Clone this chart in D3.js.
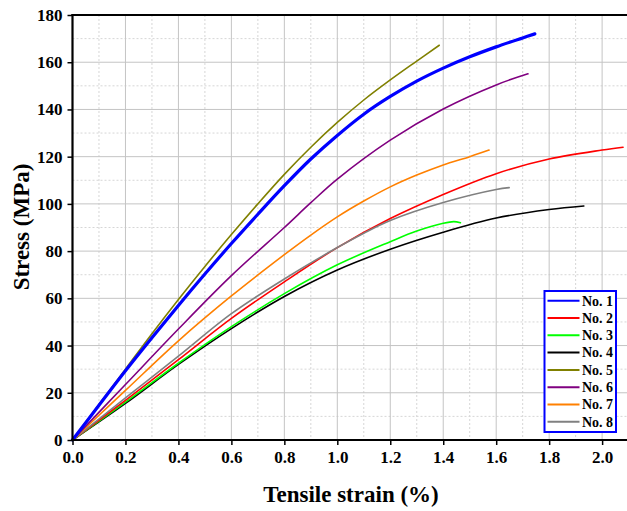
<!DOCTYPE html>
<html>
<head>
<meta charset="utf-8">
<script src="https://cdn.jsdelivr.net/npm/d3@7/dist/d3.min.js"></script>
<style>
  html, body { margin: 0; padding: 0; background: #fff; }
  svg { display: block; }
  text { font-family: "Liberation Serif", "Times New Roman", serif; font-weight: bold; fill: #000; }
</style>
</head>
<body>
<svg id="chart" width="627" height="511"></svg>
<script>
// Stress–strain curves, strain in %, stress in MPa
const series = ["No. 1", "No. 2", "No. 3", "No. 4", "No. 5", "No. 6", "No. 7", "No. 8"];
const colors = ["#0000ff", "#ff0000", "#00ff00", "#000000", "#808000", "#800080", "#ff8000", "#808080"];

const strain1 = [0, 0.1, 0.2, 0.3, 0.4, 0.5, 0.6, 0.7, 0.8, 0.9, 1.0, 1.1, 1.2, 1.3, 1.4, 1.5, 1.6, 1.7, 1.746];
const stress1 = [0, 14.7, 29.3, 43.3, 57, 70.3, 83.2, 95.6, 107.7, 119, 129, 138, 145.5, 152, 157.5, 162.3, 166.5, 170.3, 172];

const strain2 = [0, 0.2, 0.4, 0.6, 0.8, 1.0, 1.2, 1.4, 1.6, 1.8, 2.0, 2.079];
const stress2 = [0, 16.8, 34, 51.5, 67, 81.5, 93.8, 104, 112.8, 119, 122.8, 124];

const strain3 = [0, 0.2, 0.4, 0.6, 0.8, 1.0, 1.2, 1.3, 1.4, 1.44, 1.465];
const stress3 = [0, 16, 32.5, 48, 62, 74.2, 84, 88.5, 91.8, 92.5, 92];

const strain4 = [0, 0.2, 0.4, 0.6, 0.8, 1.0, 1.2, 1.4, 1.6, 1.8, 1.931];
const stress4 = [0, 15.5, 32, 47.2, 60.8, 72, 80.8, 88, 94, 97.6, 99.1];

const strain5 = [0, 0.1, 0.2, 0.3, 0.4, 0.5, 0.6, 0.7, 0.8, 0.9, 1.0, 1.1, 1.2, 1.3, 1.385];
const stress5 = [0, 15, 30, 45, 59.5, 73.5, 87, 100, 112.5, 124, 134.5, 144, 152.5, 160.5, 167.2];

const strain6 = [0, 0.2, 0.4, 0.6, 0.8, 0.9, 1.0, 1.2, 1.4, 1.6, 1.72];
const stress6 = [0, 23.5, 47, 69.6, 90, 100.5, 110.5, 127, 140.2, 150.4, 155.1];

const strain7 = [0, 0.2, 0.4, 0.6, 0.8, 0.9, 1.0, 1.1, 1.2, 1.3, 1.4, 1.5, 1.573];
const stress7 = [0, 21, 42, 61, 78.5, 86.8, 94.5, 101.2, 107.2, 112.2, 116.5, 120, 122.8];

const strain8 = [0, 0.2, 0.4, 0.6, 0.8, 1.0, 1.1, 1.2, 1.4, 1.6, 1.649];
const stress8 = [0, 17.8, 35.5, 53.5, 68.2, 81.5, 87.6, 93, 100.6, 106.1, 106.9];

const strains = [strain1, strain2, strain3, strain4, strain5, strain6, strain7, strain8];
const stresses = [stress1, stress2, stress3, stress4, stress5, stress6, stress7, stress8];
const widths = [3.2, 1.6, 1.6, 1.6, 1.6, 1.6, 1.6, 1.6];

const xTicks = [0, 0.2, 0.4, 0.6, 0.8, 1.0, 1.2, 1.4, 1.6, 1.8, 2.0];
const yTicks = [0, 20, 40, 60, 80, 100, 120, 140, 160, 180];
const xMinor = [0.1, 0.3, 0.5, 0.7, 0.9, 1.1, 1.3, 1.5, 1.7, 1.9, 2.1];
const yMinor = [10, 30, 50, 70, 90, 110, 130, 150, 170];

const svg = d3.select("#chart");
const plotLeft = 72.5, plotRight = 628.6, plotTop = 15, plotBottom = 440;

const x = d3.scaleLinear().domain([0, 2.1]).range([plotLeft, plotRight]);
const y = d3.scaleLinear().domain([0, 180]).range([plotBottom, plotTop]);

// minor grid (dotted)
const grid = svg.append("g");
grid.selectAll(".vminor").data(xMinor).join("line")
  .attr("x1", d => x(d)).attr("x2", d => x(d)).attr("y1", plotTop).attr("y2", plotBottom)
  .attr("stroke", "#d6d6d6").attr("stroke-width", 1).attr("stroke-dasharray", "2,2");
grid.selectAll(".hminor").data(yMinor).join("line")
  .attr("y1", d => y(d)).attr("y2", d => y(d)).attr("x1", plotLeft).attr("x2", plotRight)
  .attr("stroke", "#d6d6d6").attr("stroke-width", 1).attr("stroke-dasharray", "2,2");
// major grid (solid)
grid.selectAll(".vmajor").data(xTicks.filter(d => d > 0)).join("line")
  .attr("x1", d => x(d)).attr("x2", d => x(d)).attr("y1", plotTop).attr("y2", plotBottom)
  .attr("stroke", "#c4c4c4").attr("stroke-width", 1);
grid.selectAll(".hmajor").data(yTicks.filter(d => d > 0 && d < 180)).join("line")
  .attr("y1", d => y(d)).attr("y2", d => y(d)).attr("x1", plotLeft).attr("x2", plotRight)
  .attr("stroke", "#c4c4c4").attr("stroke-width", 1);

// curves
const line = d3.line().x(d => x(d[0])).y(d => y(d[1])).curve(d3.curveCatmullRom.alpha(0.5));
const curves = svg.append("g").attr("fill", "none").attr("stroke-linejoin", "round").attr("stroke-linecap", "round");
// blue curve drawn last so it stays on top
const order = [3, 2, 1, 7, 6, 5, 4, 0];
order.forEach(i => {
  const pts = strains[i].map((s, k) => [s, stresses[i][k]]);
  curves.append("path").attr("d", line(pts))
    .attr("stroke", colors[i]).attr("stroke-width", widths[i]);
});

// axes
const xAxis = d3.axisBottom(x).tickValues(xTicks).tickFormat(d3.format(".1f")).tickSize(5).tickPadding(6);
const yAxis = d3.axisLeft(y).tickValues(yTicks).tickFormat(d3.format("d")).tickSize(5).tickPadding(5);

const gx = svg.append("g").attr("transform", `translate(0,${plotBottom})`).call(xAxis);
const gy = svg.append("g").attr("transform", `translate(${plotLeft},0)`).call(yAxis);
[gx, gy].forEach(g => {
  g.select(".domain").remove();
  g.selectAll(".tick line").attr("stroke", "#000").attr("stroke-width", 1.5);
  g.selectAll(".tick text").style("font-family", '"Liberation Serif", serif')
    .style("font-weight", "bold").style("font-size", "17px").attr("fill", "#000");
});

// frame lines
svg.append("line").attr("x1", plotLeft - 1).attr("x2", 627).attr("y1", plotBottom).attr("y2", plotBottom)
  .attr("stroke", "#000").attr("stroke-width", 2.2);
svg.append("line").attr("x1", plotLeft).attr("x2", plotLeft).attr("y1", plotTop - 1).attr("y2", plotBottom + 1)
  .attr("stroke", "#000").attr("stroke-width", 2.2);
svg.append("line").attr("x1", plotLeft - 1).attr("x2", 627).attr("y1", plotTop).attr("y2", plotTop)
  .attr("stroke", "#000").attr("stroke-width", 2.2);

// axis titles
svg.append("text").attr("x", 351).attr("y", 501.5).attr("text-anchor", "middle")
  .style("font-size", "23px").text("Tensile strain (%)");
svg.append("text").attr("transform", "translate(28.5,227) rotate(-90)")
  .attr("text-anchor", "middle").style("font-size", "23px").text("Stress (MPa)");

// legend
const lg = svg.append("g");
lg.append("rect").attr("x", 544.5).attr("y", 291).attr("width", 71.5).attr("height", 141)
  .attr("fill", "#fff").attr("stroke", "#0000ff").attr("stroke-width", 2);
series.forEach((name, i) => {
  const cy = 300.7 + i * 17.3;
  lg.append("line").attr("x1", 547.5).attr("x2", 579.5).attr("y1", cy).attr("y2", cy)
    .attr("stroke", colors[i]).attr("stroke-width", 2);
  lg.append("text").attr("x", 582).attr("y", cy + 4.8).style("font-size", "14px").text(name);
});
</script>
</body>
</html>
